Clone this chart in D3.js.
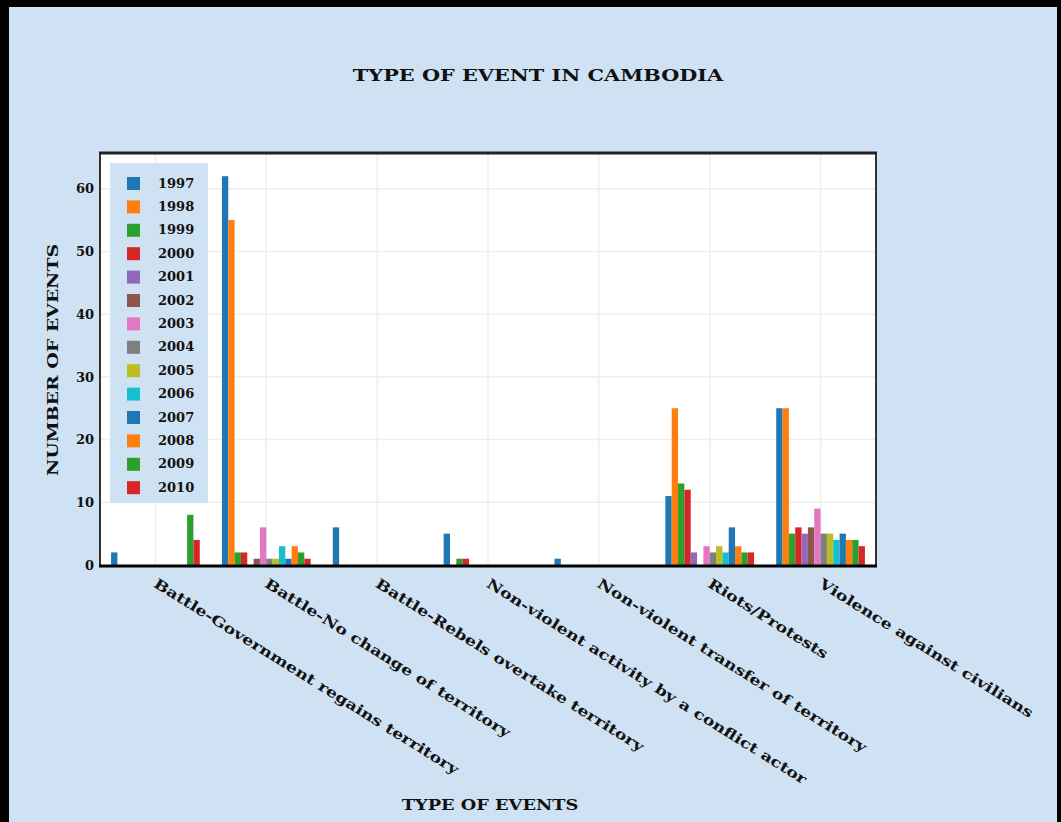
<!DOCTYPE html>
<html><head><meta charset="utf-8">
<script src="https://cdn.jsdelivr.net/npm/d3@7"></script>
<style>
html,body{margin:0;padding:0;background:#cfe2f3;}
svg{display:block;}
text{font-family:"DejaVu Serif",serif;font-weight:bold;fill:#111;}
</style></head>
<body>
<svg id="chart" width="1061" height="822"></svg>
<script>
const categories = ["Battle-Government regains territory","Battle-No change of territory","Battle-Rebels overtake territory","Non-violent activity by a conflict actor","Non-violent transfer of territory","Riots/Protests","Violence against civilians"];
const years = ["1997","1998","1999","2000","2001","2002","2003","2004","2005","2006","2007","2008","2009","2010"];
const v1997 = [2, 62, 6, 5, 1, 11, 25];
const v1998 = [0, 55, 0, 0, 0, 25, 25];
const v1999 = [0, 2, 0, 1, 0, 13, 5];
const v2000 = [0, 2, 0, 1, 0, 12, 6];
const v2001 = [0, 0, 0, 0, 0, 2, 5];
const v2002 = [0, 1, 0, 0, 0, 0, 6];
const v2003 = [0, 6, 0, 0, 0, 3, 9];
const v2004 = [0, 1, 0, 0, 0, 2, 5];
const v2005 = [0, 1, 0, 0, 0, 3, 5];
const v2006 = [0, 3, 0, 0, 0, 2, 4];
const v2007 = [0, 1, 0, 0, 0, 6, 5];
const v2008 = [0, 3, 0, 0, 0, 3, 4];
const v2009 = [8, 2, 0, 0, 0, 2, 4];
const v2010 = [4, 1, 0, 0, 0, 2, 3];
const yTicks = [0, 10, 20, 30, 40, 50, 60];
const colors = ["#1f77b4","#ff7f0e","#2ca02c","#d62728","#9467bd","#8c564b","#e377c2","#7f7f7f","#bcbd22","#17becf","#1f77b4","#ff7f0e","#2ca02c","#d62728"];

const series = [v1997,v1998,v1999,v2000,v2001,v2002,v2003,v2004,v2005,v2006,v2007,v2008,v2009,v2010];

const svg = d3.select("#chart");
const L = 100, R = 876, T = 153, B = 565;

// outer frame
svg.append("rect").attr("x",0).attr("y",0).attr("width",1061).attr("height",822).attr("fill","#cfe2f3");
svg.append("rect").attr("x",0).attr("y",0).attr("width",9).attr("height",822).attr("fill","#000");
svg.append("rect").attr("x",0).attr("y",0).attr("width",1061).attr("height",7).attr("fill","#000");
svg.append("rect").attr("x",1057).attr("y",0).attr("width",4).attr("height",822).attr("fill","#000");

// plot bg
svg.append("rect").attr("x",L).attr("y",T).attr("width",R-L).attr("height",B-T).attr("fill","#fff");

const x0 = d3.scaleBand().domain(categories).range([L,R]).padding(0);
const x1 = d3.scaleBand().domain(years).range([x0.bandwidth()*0.1, x0.bandwidth()*0.9]).padding(0);
const y = d3.scaleLinear().domain([0, 65.7]).range([B, T]);

// gridlines
svg.append("g").selectAll("line").data(yTicks.slice(1)).join("line")
  .attr("x1",L).attr("x2",R).attr("y1",d=>y(d)).attr("y2",d=>y(d))
  .attr("stroke","#eeeeee").attr("stroke-width",1.5);
svg.append("g").selectAll("line").data(categories).join("line")
  .attr("x1",d=>x0(d)+x0.bandwidth()/2).attr("x2",d=>x0(d)+x0.bandwidth()/2)
  .attr("y1",T).attr("y2",B).attr("stroke","#eeeeee").attr("stroke-width",1.5);

// bars
const gBars = svg.append("g");
series.forEach((vals, si) => {
  gBars.append("g").selectAll("rect").data(vals.map((v,ci)=>({v, c:categories[ci]}))).join("rect")
    .attr("x", d => x0(d.c) + x1(years[si]))
    .attr("width", x1.bandwidth())
    .attr("y", d => y(d.v))
    .attr("height", d => y(0) - y(d.v))
    .attr("fill", colors[si]);
});

// frame of plot
svg.append("line").attr("x1",L).attr("x2",L).attr("y1",T).attr("y2",B).attr("stroke","#333").attr("stroke-width",2);
svg.append("line").attr("x1",R).attr("x2",R).attr("y1",T).attr("y2",B).attr("stroke","#333").attr("stroke-width",2);
svg.append("line").attr("x1",L-1).attr("x2",R+1).attr("y1",T).attr("y2",T).attr("stroke","#222").attr("stroke-width",3);
svg.append("line").attr("x1",L-1).attr("x2",R+1).attr("y1",B+1).attr("y2",B+1).attr("stroke","#000").attr("stroke-width",3);

// y axis labels
const yAxis = d3.axisLeft(y).tickValues(yTicks).tickSize(0).tickPadding(6);
const gy = svg.append("g").attr("transform",`translate(${L},0)`).call(yAxis);
gy.select(".domain").remove();
gy.selectAll("text").style("font-family","DejaVu Serif").style("font-weight","bold").style("font-size","13px").attr("fill","#111");

// x axis labels
const gx = svg.append("g").attr("transform",`translate(0,${B})`);
gx.selectAll("text").data(categories).join("text")
  .attr("transform", d => `translate(${x0(d)+x0.bandwidth()/2},${17}) rotate(32) scale(1.25,1)`)
  .attr("text-anchor","start")
  .attr("dy","0.35em")
  .style("font-size","14px")
  .text(d=>d);

// legend
const lg = svg.append("g");
lg.append("rect").attr("x",110).attr("y",163).attr("width",98).attr("height",340).attr("fill","#cfe2f3");
years.forEach((yr,i)=>{
  const yy = 183 + i*23.4;
  lg.append("rect").attr("x",127).attr("y",yy-6).attr("width",13).attr("height",13).attr("fill",colors[i]);
  lg.append("text").attr("x",158).attr("y",yy).attr("dy","0.35em").style("font-size","13px").text(yr);
});

// titles
svg.append("text").attr("transform","translate(538,75) scale(1.3,1)").attr("text-anchor","middle").attr("dy","0.35em")
  .style("font-size","16px").text("TYPE OF EVENT IN CAMBODIA");
svg.append("text").attr("transform","translate(490,805) scale(1.27,1)").attr("text-anchor","middle").attr("dy","0.35em")
  .style("font-size","14px").text("TYPE OF EVENTS");
svg.append("text").attr("transform","translate(53,360) rotate(-90) scale(1.35,1)").attr("text-anchor","middle").attr("dy","0.35em")
  .style("font-size","14px").text("NUMBER OF EVENTS");
</script>
</body></html>
